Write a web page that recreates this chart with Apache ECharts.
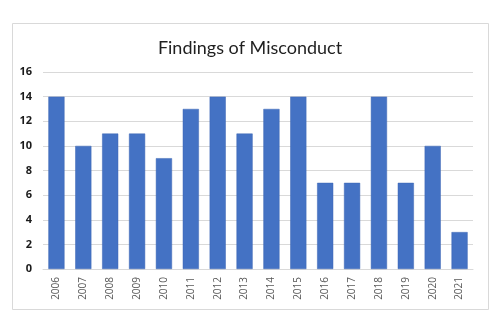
<!DOCTYPE html>
<html>
<head>
<meta charset="utf-8">
<script src="https://cdn.jsdelivr.net/npm/echarts@6/dist/echarts.min.js"></script>
<style>
  html, body { margin: 0; padding: 0; background: #fff; }
  #chart { width: 500px; height: 333px; }
</style>
</head>
<body>
<div id="chart"></div>
<script>
// Findings of misconduct per year
const years = ['2006','2007','2008','2009','2010','2011','2012','2013','2014','2015','2016','2017','2018','2019','2020','2021'];
const findings = [14, 10, 11, 11, 9, 13, 14, 11, 13, 14, 7, 7, 14, 7, 10, 3];
const yTicks = { min: 0, max: 16, interval: 2 };

const chart = echarts.init(document.getElementById('chart'), null, { renderer: 'canvas' });
chart.setOption({
  animation: false,
  backgroundColor: '#ffffff',
  graphic: [{
    type: 'rect',
    shape: { x: 12.5, y: 23.5, width: 476, height: 286 },
    style: { fill: 'none', stroke: '#d9d9d9', lineWidth: 1 },
    z: -1
  }],
  title: {
    text: 'Findings of Misconduct',
    left: 'center',
    top: 34,
    textStyle: { fontFamily: 'Lato', fontSize: 18, fontWeight: 'normal', color: '#1f1f1f' }
  },
  grid: { left: 43, right: 27, top: 72, bottom: 64 },
  xAxis: {
    type: 'category',
    data: years,
    axisTick: { show: false },
    axisLine: { lineStyle: { color: '#d9d9d9' } },
    axisLabel: {
      rotate: 90,
      margin: 8,
      color: '#595959',
      fontFamily: 'Open Sans',
      fontSize: 10
    }
  },
  yAxis: {
    type: 'value',
    min: yTicks.min,
    max: yTicks.max,
    interval: yTicks.interval,
    axisLine: { show: false },
    axisTick: { show: false },
    splitLine: { lineStyle: { color: '#d9d9d9' } },
    axisLabel: {
      margin: 11,
      color: '#1a1a1a',
      fontFamily: 'Open Sans',
      fontWeight: 'bold',
      fontSize: 11
    }
  },
  series: [{
    type: 'bar',
    data: findings,
    barCategoryGap: '40%',
    itemStyle: { color: '#4472c4', borderColor: '#3c66b4', borderWidth: 0.5 }
  }]
});
</script>
</body>
</html>
